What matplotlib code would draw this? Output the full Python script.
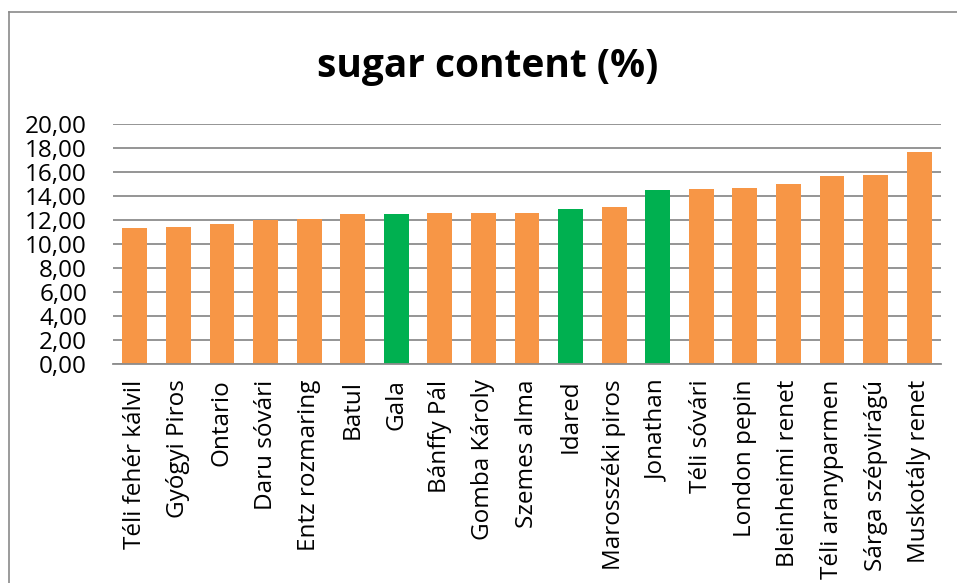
import matplotlib.pyplot as plt
from matplotlib.lines import Line2D

plt.rcParams['font.family'] = ['Open Sans', 'DejaVu Sans']

varieties = ['Téli fehér kálvil', 'Gyógyi Piros', 'Ontario', 'Daru sóvári',
             'Entz rozmaring', 'Batul', 'Gala', 'Bánffy Pál', 'Gomba Károly',
             'Szemes alma', 'Idared', 'Marosszéki piros', 'Jonathan',
             'Téli sóvári', 'London pepin', 'Bleinheimi renet',
             'Téli aranyparmen', 'Sárga szépvirágú', 'Muskotály renet']
sugar = [11.33, 11.42, 11.69, 12.03, 12.11, 12.50, 12.52, 12.60, 12.60,
         12.60, 12.94, 13.10, 14.53, 14.60, 14.70, 15.03, 15.69, 15.78, 17.69]
highlight = ['Gala', 'Idared', 'Jonathan']
yticks = [0, 2, 4, 6, 8, 10, 12, 14, 16, 18, 20]

orange = '#F79646'
green = '#00B050'
grid_c = '#8C8C8C'

fig = plt.figure(figsize=(9.57, 5.83), dpi=100)
ax = fig.add_axes([113/957, 1-364.3/583, (941-113)/957, (364.3-124)/583])

colors = [green if v in highlight else orange for v in varieties]
x = range(len(varieties))
ax.bar(x, sugar, width=0.57, color=colors, zorder=3)

ax.set_xlim(-0.5, len(varieties)-0.5)
ax.set_ylim(0, 20)
ax.set_yticks(yticks)
ax.set_yticklabels([('%.2f' % t).replace('.', ',') for t in yticks])
ax.set_xticks(list(x))
ax.set_xticklabels(varieties, rotation=90)
ax.tick_params(axis='both', length=0, labelsize=17.5, colors='black')
ax.tick_params(axis='y', pad=18.7)
ax.tick_params(axis='x', pad=11)
ax.yaxis.grid(True, color=grid_c, linewidth=1.3, zorder=0)
ax.set_axisbelow(True)
for s in ['left', 'right', 'top']:
    ax.spines[s].set_visible(False)
ax.spines['bottom'].set_color(grid_c)
ax.spines['bottom'].set_linewidth(1.3)
ax.spines['bottom'].set_zorder(4)

fig.text(488/957, 1-66/583, 'sugar content (%)', ha='center', va='center',
         fontsize=28, fontweight='bold')

# chart frame (left and top edges only visible)
fig.add_artist(Line2D([8.5/957, 8.5/957], [0, 1-12/583], color='#8A8A8A',
                      linewidth=1.2, transform=fig.transFigure))
fig.add_artist(Line2D([8.5/957, 1], [1-12/583, 1-12/583], color='#8A8A8A',
                      linewidth=1.2, transform=fig.transFigure))

fig.savefig('out.png', dpi=100)
